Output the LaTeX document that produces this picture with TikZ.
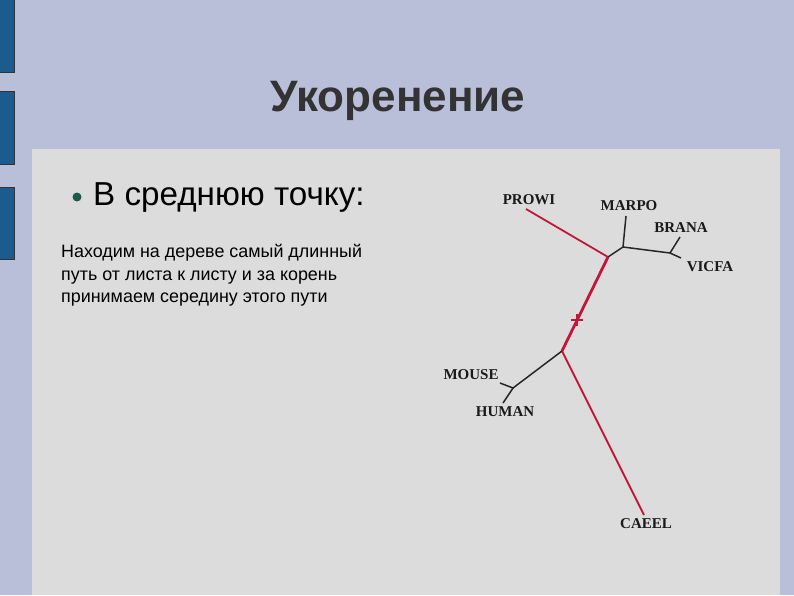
\documentclass[tikz,border=0pt]{standalone}
\usepackage{fontspec}
\setmainfont{Liberation Sans}
\newfontfamily\labfont{Liberation Serif}
\definecolor{bgl}{HTML}{B9BED9}
\definecolor{panel}{HTML}{DCDCDC}
\definecolor{barblue}{HTML}{1B5B8E}
\definecolor{treered}{HTML}{C0173A}
\definecolor{bulletgreen}{HTML}{1E5A4A}
\definecolor{titlegray}{HTML}{333333}
\tikzset{
  bar/.style={fill=barblue, draw=black!80, line width=0.8pt},
  leaf/.style={font=\labfont\bfseries\fontsize{15}{17}\selectfont, inner sep=0pt, text=black!90},
  paraline/.style={anchor=base west, font=\fontsize{17.9}{22}\selectfont, inner sep=0pt},
  redb/.style={draw=treered, line width=1.8pt},
  redthick/.style={draw=treered, line width=2.8pt},
  blackb/.style={draw=black!85, line width=1.5pt},
}
\begin{document}
\begin{tikzpicture}[x=1pt,y=-1pt]
\useasboundingbox (0,0) rectangle (794,595);
\fill[bgl] (0,0) rectangle (794,595);
\fill[panel] (32,149) rectangle (780,595);
\draw[bar] (-2,-2) rectangle (14,72);
\draw[bar] (-2,91) rectangle (14,164);
\draw[bar] (-2,187) rectangle (14,259);
\node[font=\bfseries\fontsize{44}{50}\selectfont, text=titlegray] (title) at (398,101) {Укоренение};
\fill[bulletgreen] (77,197) circle (4.5);
\node[anchor=base west, font=\fontsize{33.2}{38}\selectfont, inner sep=0pt] (b1) at (93,205) {В среднюю точку:};
\node[paraline] (p1) at (61,257) {Находим на дереве самый длинный};
\node[paraline] (p2) at (61,280) {путь от листа к листу и за корень};
\node[paraline] (p3) at (61,302) {принимаем середину этого пути};
% tree coordinates
\coordinate (j1) at (608,257);
\coordinate (j2) at (623,247);
\coordinate (j3) at (670,253);
\coordinate (j4) at (562,351);
\coordinate (j5) at (513,388);
\coordinate (tprowi) at (526,209);
\coordinate (tmarpo) at (626,216);
\coordinate (tbrana) at (680,237);
\coordinate (tvicfa) at (681,258);
\coordinate (tmouse) at (500,383);
\coordinate (thuman) at (503,403);
\coordinate (tcaeel) at (644,515);
\node[leaf] (prowi) at (529,200) {PROWI};
\node[leaf] (marpo) at (629,206) {MARPO};
\node[leaf] (brana) at (681,228) {BRANA};
\node[leaf] (vicfa) at (710,267) {VICFA};
\node[leaf] (mouse) at (471,375) {MOUSE};
\node[leaf] (human) at (505,412) {HUMAN};
\node[leaf] (caeel) at (646,524) {CAEEL};
\draw[redb] (tprowi) -- (j1);
\draw[redthick] (j1) -- (j4);
\draw[redb] (j4) -- (tcaeel);
\draw[blackb] (j1) -- (j2) -- (tmarpo);
\draw[blackb] (j2) -- (j3) -- (tbrana);
\draw[blackb] (j3) -- (tvicfa);
\draw[blackb] (j4) -- (j5) -- (tmouse);
\draw[blackb] (j5) -- (thuman);
\coordinate (mid) at (577,320);
\draw[treered, line width=2.2pt] ([xshift=-6pt]mid) -- ([xshift=6pt]mid);
\draw[treered, line width=2.2pt] ([yshift=-6pt]mid) -- ([yshift=6pt]mid);
\end{tikzpicture}
\end{document}
